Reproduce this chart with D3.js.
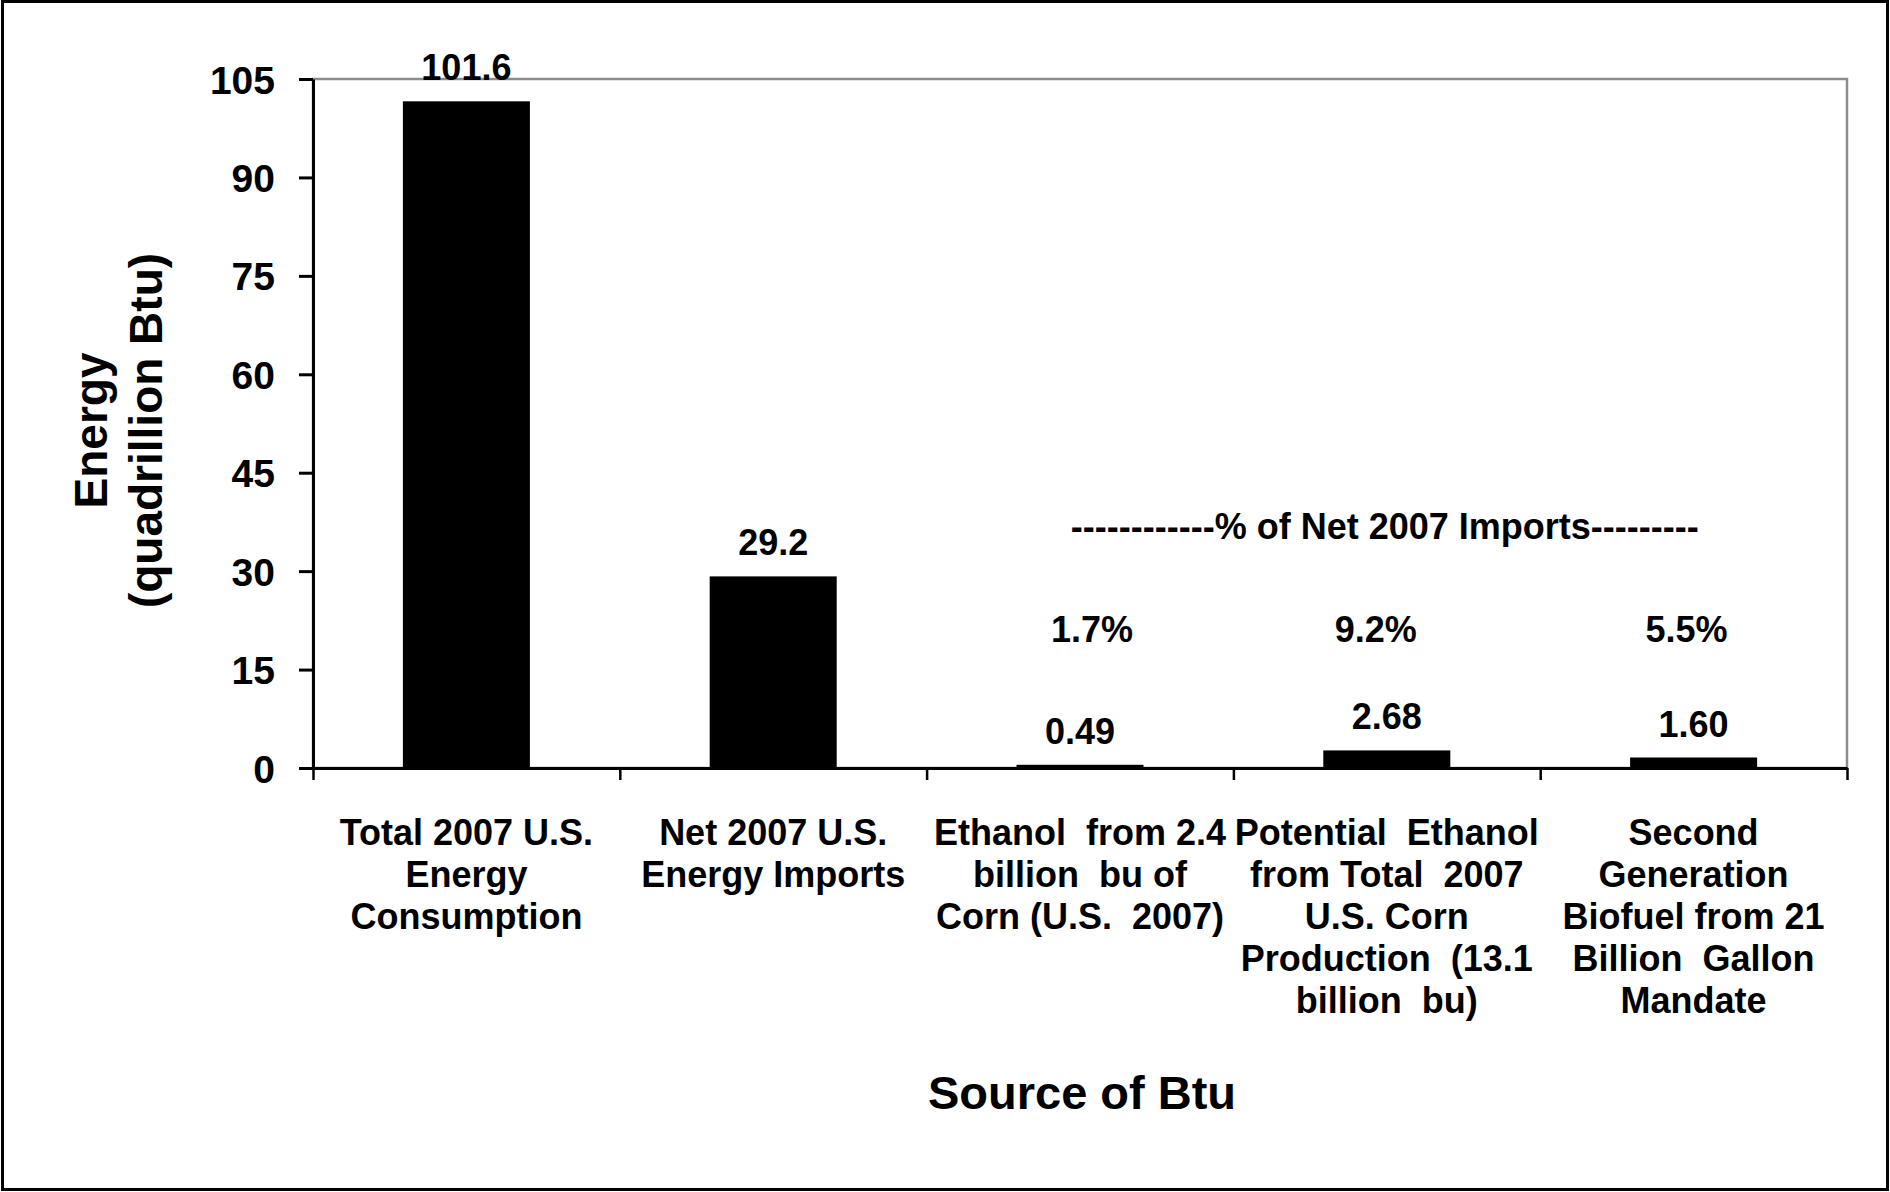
<!DOCTYPE html>
<html>
<head>
<meta charset="utf-8">
<script src="https://cdn.jsdelivr.net/npm/d3@7"></script>
<style>
  html, body { margin: 0; padding: 0; background: #fff; }
  svg { display: block; }
  text { font-family: "Liberation Sans", Arial, sans-serif; font-weight: bold; fill: #000; }
</style>
</head>
<body>
<svg id="chart" width="1890" height="1192"></svg>
<script>
// ---- data ----
const categories = ["total", "imports", "ethanol", "potential", "second"];
const categoryLabels = [
  ["Total 2007 U.S.", "Energy", "Consumption"],
  ["Net 2007 U.S.", "Energy Imports"],
  ["Ethanol  from 2.4", "billion  bu of", "Corn (U.S.  2007)"],
  ["Potential  Ethanol", "from Total  2007", "U.S. Corn", "Production  (13.1", "billion  bu)"],
  ["Second", "Generation", "Biofuel from 21", "Billion  Gallon", "Mandate"]
];
const values = [101.6, 29.2, 0.49, 2.68, 1.60];
const valueLabels = ["101.6", "29.2", "0.49", "2.68", "1.60"];
const pctCategories = ["ethanol", "potential", "second"];
const pctLabels = ["1.7%", "9.2%", "5.5%"];
const yTicks = [0, 15, 30, 45, 60, 75, 90, 105];
const annotation = "------------% of Net 2007 Imports---------";
const yTitle = ["Energy", "(quadrillion Btu)"];
const xTitle = "Source of Btu";

// ---- layout ----
const W = 1890, H = 1192;
const plot = { left: 313, right: 1847, top: 79, bottom: 768 };
const pctShift = [12, -11, -7]; // small horizontal nudges of the % annotations
const svg = d3.select("#chart");

svg.append("rect")
  .attr("x", 2.5).attr("y", 1.5).attr("width", W - 5).attr("height", H - 4)
  .attr("fill", "#fff").attr("stroke", "#000").attr("stroke-width", 3);

const x = d3.scaleBand().domain(categories)
  .range([plot.left, plot.right]).paddingInner(0.586).paddingOuter(0.293);
const xEdges = d3.scaleLinear().domain([0, categories.length]).range([plot.left, plot.right]);
const y = d3.scaleLinear().domain([0, 105]).range([plot.bottom, plot.top]);

// plot area border (gray)
svg.append("rect")
  .attr("x", plot.left).attr("y", plot.top)
  .attr("width", plot.right - plot.left).attr("height", plot.bottom - plot.top)
  .attr("fill", "none").attr("stroke", "#8c8c8c").attr("stroke-width", 2.5);

// bars
svg.append("g").selectAll("rect").data(values).join("rect")
  .attr("x", (d, i) => x(categories[i]))
  .attr("y", d => y(d))
  .attr("width", x.bandwidth())
  .attr("height", d => y(0) - y(d))
  .attr("fill", "#000");

// y axis
const yAxis = svg.append("g").attr("transform", `translate(${plot.left},0)`)
  .call(d3.axisLeft(y).tickValues(yTicks).tickSize(14).tickSizeOuter(0).tickPadding(24));
yAxis.select(".domain").attr("stroke", "#000").attr("stroke-width", 3);
yAxis.selectAll(".tick line").attr("stroke", "#000").attr("stroke-width", 3);
yAxis.selectAll(".tick text")
  .style("font-family", '"Liberation Sans", Arial, sans-serif')
  .style("font-weight", "bold").style("font-size", "39px").attr("fill", "#000")
  .attr("dy", "0.36em");

// x axis (ticks at category boundaries)
const xAxis = svg.append("g").attr("transform", `translate(0,${plot.bottom})`)
  .call(d3.axisBottom(xEdges).tickValues(d3.range(categories.length + 1))
    .tickFormat("").tickSize(12).tickSizeOuter(0));
xAxis.select(".domain").attr("stroke", "#000").attr("stroke-width", 3);
xAxis.selectAll(".tick line").attr("stroke", "#000").attr("stroke-width", 2.5);

// category labels
const catG = svg.append("g");
categoryLabels.forEach((lines, i) => {
  const cx = x(categories[i]) + x.bandwidth() / 2;
  const t = catG.append("text").attr("text-anchor", "middle")
    .style("font-size", "36px").attr("xml:space", "preserve").style("white-space", "pre");
  lines.forEach((ln, j) => {
    t.append("tspan").attr("x", cx).attr("y", 845 + j * 42).text(ln);
  });
});

// value labels
svg.append("g").selectAll("text").data(values).join("text")
  .attr("x", (d, i) => x(categories[i]) + x.bandwidth() / 2)
  .attr("y", d => y(d) - 21)
  .attr("text-anchor", "middle").style("font-size", "36px")
  .text((d, i) => valueLabels[i]);

// percent labels
svg.append("g").selectAll("text").data(pctLabels).join("text")
  .attr("x", (d, i) => x(pctCategories[i]) + x.bandwidth() / 2 + pctShift[i])
  .attr("y", 642)
  .attr("text-anchor", "middle").style("font-size", "36px")
  .text(d => d);

// annotation
svg.append("text")
  .attr("x", x("potential") + x.bandwidth() / 2 - 2)
  .attr("y", 539)
  .attr("text-anchor", "middle").style("font-size", "36px")
  .text(annotation);

// y title
const yt = svg.append("text")
  .attr("transform", `translate(0,${(plot.top + plot.bottom) / 2 + 7}) rotate(-90)`)
  .attr("text-anchor", "middle").style("font-size", "46px");
yTitle.forEach((ln, j) => {
  yt.append("tspan").attr("x", 0).attr("y", 107 + j * 55).text(ln);
});

// x title
svg.append("text")
  .attr("x", (plot.left + plot.right) / 2 + 2)
  .attr("y", 1109)
  .attr("text-anchor", "middle").style("font-size", "47px")
  .text(xTitle);
</script>
</body>
</html>
